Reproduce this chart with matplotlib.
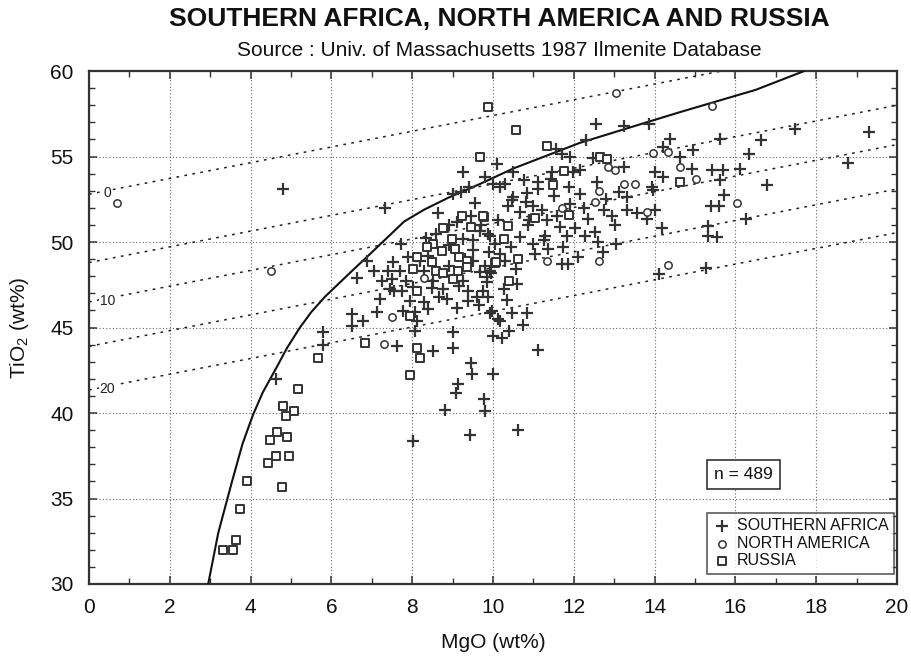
import matplotlib
matplotlib.use("Agg")
import matplotlib.pyplot as plt
from matplotlib.ticker import MultipleLocator

# ---- data ----
sa_mgo = [17.48, 19.31, 15.62, 16.63, 16.34, 14.96, 18.78, 14.92, 15.41, 15.70, 16.11, 15.62, 16.79,
          15.72, 15.39, 15.60, 16.25, 15.33, 15.33, 15.55, 15.27, 14.63,
          12.55, 13.23, 13.85, 12.30, 11.56, 11.70, 11.90, 13.24, 12.48, 10.11, 10.50, 11.45, 11.99,
          12.15, 10.01, 10.30, 10.77, 11.12, 11.43, 11.89, 11.12, 12.58, 13.95, 12.15, 10.83, 10.48,
          10.82, 11.00, 10.36, 11.90, 12.24, 12.80, 13.13, 13.31, 12.75, 13.31, 13.56, 14.01, 11.20,
          10.67, 11.59, 11.33, 12.36, 12.94, 13.02, 13.80, 14.17, 10.87, 11.66, 11.82, 12.03, 12.28,
          12.52, 11.29, 11.00, 11.37, 11.74, 12.73, 11.70, 11.86, 14.12, 9.93, 10.46, 10.83, 10.50,
          10.17, 10.13, 9.93, 10.67, 9.91, 10.17, 10.58, 9.93, 9.84, 10.26, 10.60, 9.88, 11.25,
          14.38, 14.20, 14.01, 14.20, 13.93,
          7.33, 9.46, 8.60, 9.68, 9.26, 9.51, 9.88, 8.34, 7.71, 9.51, 6.87, 7.05, 7.53, 7.41, 7.70,
          8.28, 9.68, 6.64, 7.24, 7.49, 7.85, 8.52, 9.26, 9.84, 7.45, 7.55, 7.74, 8.03, 8.48, 8.77,
          9.17, 9.39, 9.76, 7.20, 7.95, 8.28, 8.67, 8.85, 9.10, 9.39, 9.60, 8.40, 8.07, 7.78, 9.97,
          10.13, 7.14, 6.50, 6.79, 6.50, 8.11, 8.07, 9.02, 10.01, 5.78, 5.78, 7.62, 8.52, 9.02, 9.55,
          4.63, 9.45, 9.47, 10.01, 9.14, 9.08, 9.78, 9.80, 8.81, 9.43, 10.63, 8.03, 10.21, 10.40,
          10.73, 11.12, 10.17,
          4.80, 9.25, 9.40, 9.00, 9.80, 8.90, 9.10, 9.70, 8.90, 9.30, 9.80, 8.90, 9.50, 8.40, 7.90, 8.20,
          10.05, 9.95, 10.30, 10.45, 9.65, 11.05, 11.50, 12.60, 13.05, 12.10, 10.90, 10.35, 8.65, 9.20]
sa_tio2 = [56.64, 56.44, 56.00, 55.95, 55.17, 55.40, 54.62, 54.29, 54.23, 54.20, 54.29, 53.65, 53.36,
           52.77, 52.08, 52.08, 51.36, 50.93, 50.34, 50.28, 48.46, 55.00,
           56.93, 56.77, 56.93, 55.99, 55.46, 55.17, 54.97, 54.39, 54.94, 54.59, 54.10, 54.10, 54.10,
           54.20, 53.41, 53.41, 53.60, 53.50, 53.70, 53.22, 53.12, 53.50, 53.02, 52.79, 52.87, 52.43,
           52.34, 52.08, 52.08, 52.24, 52.00, 52.53, 52.92, 52.63, 51.89, 51.85, 51.69, 51.85, 51.89,
           51.75, 51.55, 51.26, 51.36, 51.55, 50.97, 51.36, 50.83, 50.97, 50.87, 50.38, 50.83, 50.38,
           50.58, 50.38, 49.89, 49.60, 49.70, 49.40, 48.72, 48.72, 48.13, 45.83, 45.83, 45.83, 52.63,
           53.22, 51.30, 50.38, 50.28, 49.40, 49.31, 48.43, 48.33, 47.94, 47.26, 47.55, 46.76, 50.09,
           56.05, 55.56, 54.10, 53.80, 53.22,
           52.00, 51.50, 50.48, 50.67, 50.19, 50.09, 50.48, 50.25, 49.89, 49.54, 48.91, 48.33, 48.82,
           48.33, 48.33, 48.33, 48.23, 47.90, 47.70, 47.84, 47.74, 47.74, 47.74, 47.64, 47.26, 47.16,
           47.16, 47.39, 47.31, 47.26, 47.45, 47.12, 47.12, 46.67, 46.57, 46.47, 46.76, 46.67, 46.14,
           46.53, 46.76, 46.08, 45.88, 45.98, 45.98, 45.49, 45.88, 45.79, 45.40, 45.10, 45.36, 44.81,
           44.71, 44.52, 44.71, 43.99, 43.93, 43.64, 43.83, 52.30,
           41.98, 42.95, 42.27, 42.30, 41.72, 41.19, 40.80, 40.12, 40.16, 38.71, 38.98, 38.36, 44.38,
           44.77, 45.16, 43.68, 45.40,
           53.10, 54.10, 53.20, 52.80, 53.80, 51.00, 51.20, 51.00, 49.80, 49.00, 48.60, 48.60, 48.90,
           49.20, 49.10, 48.90,
           49.90, 48.20, 48.90, 49.70, 46.30, 49.30, 52.70, 50.00, 49.90, 49.10, 51.30, 46.60, 51.70, 52.90]

na_mgo = [0.70, 4.50, 13.04, 15.41, 15.02, 16.03, 14.63, 12.85, 13.02, 12.63, 13.23, 13.51, 11.70,
          12.52, 13.82, 11.33, 12.63, 14.32, 13.97, 14.34, 8.28, 7.51, 7.30]
na_tio2 = [52.30, 48.30, 58.70, 57.95, 53.70, 52.30, 54.40, 54.39, 54.23, 52.98, 53.41, 53.41, 52.00,
           52.34, 51.75, 48.91, 48.91, 48.68, 55.20, 55.27, 47.90, 45.59, 44.03]

ru_mgo = [5.67, 6.83, 5.17, 4.80, 5.07, 4.88, 4.65, 4.48, 4.90, 4.63, 4.95, 4.43, 3.91, 3.74, 3.64,
          3.56, 3.32, 4.78, 7.95, 8.12, 8.19, 7.95,
          9.88, 10.57, 11.33, 12.66, 12.81, 11.76, 11.48, 11.04, 11.89, 9.78, 10.36, 10.26, 10.63,
          10.05, 10.40, 9.68, 14.63, 9.24, 9.76, 8.77, 9.45, 8.98, 8.52, 8.36, 8.73, 9.06, 8.11,
          8.48, 9.17, 9.35, 10.07, 8.03, 8.59, 8.75, 9.14, 9.35, 9.00, 8.13]
ru_tio2 = [43.20, 44.10, 41.40, 40.40, 40.10, 39.80, 38.90, 38.40, 38.60, 37.50, 37.50, 37.10, 36.00,
           34.40, 32.60, 32.00, 32.00, 35.70, 42.20, 43.80, 43.20, 45.70,
           57.90, 56.58, 55.60, 54.97, 54.88, 54.15, 53.31, 51.42, 51.60, 51.46, 50.91, 50.19, 49.01,
           48.76, 47.74, 55.00, 53.50, 51.50, 51.50, 50.83, 50.87, 50.19, 49.89, 49.70, 49.46, 49.60,
           49.15, 48.82, 49.15, 48.88, 48.82, 48.43, 48.29, 48.17, 48.33, 48.56, 47.84, 47.12]

# boundary curve
curve_mgo = [2.95, 3.20, 3.54, 3.80, 4.06, 4.30, 4.65, 4.90, 5.22, 5.50, 5.84, 6.46, 7.00, 7.40,
             7.80, 8.30, 8.90, 9.68, 10.50, 12.15, 13.80, 14.63, 16.50, 17.70]
curve_tio2 = [30.0, 33.0, 36.0, 38.2, 39.9, 41.2, 42.7, 43.8, 45.0, 45.9, 46.8, 48.2, 49.4, 50.3,
              51.2, 51.9, 52.6, 53.4, 54.3, 55.8, 57.0, 57.6, 58.9, 60.0]

# dotted iso-lines: value at MgO=0 and MgO=20
iso_left = [52.8, 48.8, 46.5, 43.9, 41.35]
iso_right = [62.0, 58.0, 55.7, 53.1, 50.55]
iso_labels = ["0", "", "10", "", "20"]

plt.rcParams["font.family"] = ["Liberation Sans", "DejaVu Sans"]
plt.rcParams["mathtext.fontset"] = "custom"
plt.rcParams["mathtext.rm"] = "Liberation Sans"
plt.rcParams["mathtext.it"] = "Liberation Sans:italic"

INK = "#333333"

fig = plt.figure(figsize=(9.12, 6.61), dpi=100)
ax = fig.add_axes([0.0976, 0.1165, 0.886, 0.776])

for yl, yr, lab in zip(iso_left, iso_right, iso_labels):
    ax.plot([0, 20], [yl, yr], color="#222222", lw=1.1, ls=(0, (1.8, 3.5)), zorder=2)
    if lab:
        ax.text(0.45, yl + 0.05, lab, fontsize=10, ha="center", va="center", color="#222222",
                bbox=dict(fc="white", ec="none", pad=0.5), zorder=3)

ax.plot(curve_mgo, curve_tio2, color="#111111", lw=1.5, zorder=3)

ax.scatter(sa_mgo, sa_tio2, marker="+", s=70, linewidths=1.6, color=INK, zorder=4,
           label="SOUTHERN AFRICA")
ax.scatter(na_mgo, na_tio2, marker="o", s=28, facecolors="white", edgecolors=INK,
           linewidths=1.1, zorder=4, label="NORTH AMERICA")
ax.scatter(ru_mgo, ru_tio2, marker="s", s=32, facecolors="white", edgecolors=INK,
           linewidths=1.4, zorder=4, label="RUSSIA")

ax.set_xlim(0, 20)
ax.set_ylim(30, 60)
ax.xaxis.set_major_locator(MultipleLocator(2))
ax.xaxis.set_minor_locator(MultipleLocator(1))
ax.yaxis.set_major_locator(MultipleLocator(5))
ax.yaxis.set_minor_locator(MultipleLocator(1))
ax.tick_params(which="both", direction="in", top=True, right=True, colors="#333333",
               labelsize=15, labelcolor="#111111")
ax.tick_params(which="major", length=6, width=1.1)
ax.tick_params(which="minor", length=4, width=1.0)
ax.tick_params(axis="x", which="major", pad=10)
ax.tick_params(axis="y", which="major", pad=11)
ax.grid(True, which="major", color="#666666", ls=(0, (1, 2)), lw=0.8)
for sp in ax.spines.values():
    sp.set_color("#333333")
    sp.set_linewidth(1.6)

ax.set_xlabel("MgO (wt%)", fontsize=15, color="#111111")
ax.set_ylabel("TiO$_2$ (wt%)", fontsize=15, color="#111111")
ax.xaxis.set_label_coords(0.5, -0.095)
ax.yaxis.set_label_coords(-0.072, 0.5)

ax.text(16.2, 36.4, "n = 489", fontsize=12.5, ha="center", va="center", color="#111111",
        bbox=dict(fc="white", ec="#222222", lw=1.1, boxstyle="square,pad=0.4"), zorder=5)

leg = ax.legend(loc="lower right", bbox_to_anchor=(0.996, 0.02), borderaxespad=0,
                frameon=True, fancybox=False, edgecolor="#222222", fontsize=11.5,
                handletextpad=0.3, labelspacing=0.15, borderpad=0.35, handlelength=1.2)
leg.get_frame().set_linewidth(1.1)
for t in leg.get_texts():
    t.set_color("#111111")

fig.text(0.548, 0.971, "SOUTHERN AFRICA, NORTH AMERICA AND RUSSIA", fontsize=19,
         fontweight="bold", ha="center", va="center", color="#111111")
fig.text(0.548, 0.923, "Source : Univ. of Massachusetts 1987 Ilmenite Database", fontsize=15,
         ha="center", va="center", color="#111111")

fig.savefig("out.png", dpi=100)
